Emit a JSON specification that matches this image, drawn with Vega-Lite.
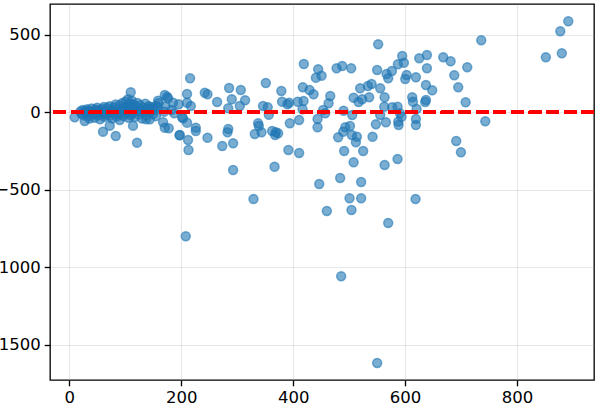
{
  "$schema": "https://vega.github.io/schema/vega-lite/v6.json",
  "width": 544,
  "height": 376,
  "autosize": "none",
  "padding": {"left": 50, "top": 4, "right": 7, "bottom": 37},
  "background": "white",
  "config": {
    "view": {"stroke": "black", "strokeWidth": 1.33},
    "axis": {
      "domain": false,
      "grid": true,
      "gridColor": "#b0b0b0",
      "gridOpacity": 0.3,
      "gridWidth": 1.1,
      "tickColor": "black",
      "tickWidth": 1.33,
      "tickSize": 5.8,
      "labelFont": "DejaVu Sans",
      "labelFontSize": 16.5,
      "labelColor": "black",
      "labelPadding": 4,
      "format": "d",
      "title": null
    }
  },
  "data": {
    "values": [
      {"x": 551.9, "r": 438.7}, {"x": 594.8, "r": 363.2}, {"x": 639.0, "r": 369.7}, {"x": 625.2, "r": 348.4},
      {"x": 597.8, "r": 320.0}, {"x": 587.1, "r": 309.7}, {"x": 419.1, "r": 311.6}, {"x": 477.6, "r": 283.9},
      {"x": 487.6, "r": 298.7}, {"x": 503.7, "r": 283.9}, {"x": 444.7, "r": 277.4}, {"x": 550.1, "r": 272.9},
      {"x": 576.4, "r": 266.5}, {"x": 639.0, "r": 283.9}, {"x": 566.9, "r": 247.1}, {"x": 569.8, "r": 219.4},
      {"x": 602.7, "r": 240.6}, {"x": 600.2, "r": 214.8}, {"x": 619.3, "r": 225.8}, {"x": 440.6, "r": 223.2},
      {"x": 450.8, "r": 236.1}, {"x": 215.9, "r": 219.4}, {"x": 351.2, "r": 189.0}, {"x": 540.1, "r": 182.6},
      {"x": 533.5, "r": 169.7}, {"x": 519.7, "r": 154.8}, {"x": 555.5, "r": 154.8}, {"x": 637.2, "r": 176.1},
      {"x": 285.6, "r": 156.8}, {"x": 306.5, "r": 143.9}, {"x": 242.2, "r": 126.5}, {"x": 247.0, "r": 116.1},
      {"x": 210.5, "r": 118.1}, {"x": 417.3, "r": 161.3}, {"x": 429.3, "r": 143.9}, {"x": 436.5, "r": 116.1},
      {"x": 378.9, "r": 137.4}, {"x": 466.3, "r": 105.2}, {"x": 508.0, "r": 94.2}, {"x": 523.3, "r": 83.9},
      {"x": 535.8, "r": 96.8}, {"x": 563.4, "r": 96.8}, {"x": 612.7, "r": 96.8}, {"x": 290.4, "r": 83.9},
      {"x": 314.2, "r": 77.4}, {"x": 264.2, "r": 66.5}, {"x": 210.5, "r": 61.9}, {"x": 380.2, "r": 68.4},
      {"x": 408.2, "r": 68.4}, {"x": 418.6, "r": 72.9}, {"x": 463.3, "r": 58.1}, {"x": 516.9, "r": 66.5},
      {"x": 614.0, "r": 68.4}, {"x": 637.2, "r": 79.4}, {"x": 389.8, "r": 51.6}, {"x": 392.7, "r": 61.9},
      {"x": 217.2, "r": 40.6}, {"x": 284.1, "r": 25.8}, {"x": 304.7, "r": 40.6}, {"x": 346.2, "r": 40.6},
      {"x": 354.6, "r": 32.3}, {"x": 562.7, "r": 36.1}, {"x": 586.5, "r": 36.1}, {"x": 577.0, "r": 32.3},
      {"x": 620.5, "r": 21.3}, {"x": 453.6, "r": 14.8}, {"x": 416.8, "r": 19.4}, {"x": 490.1, "r": 10.3},
      {"x": 356.6, "r": -15.5}, {"x": 457.2, "r": -6.5}, {"x": 555.5, "r": -17.4}, {"x": 505.5, "r": -17.4},
      {"x": 590.7, "r": -6.5}, {"x": 593.7, "r": -28.4}, {"x": 203.4, "r": -38.7}, {"x": 210.5, "r": -67.1},
      {"x": 443.6, "r": -43.2}, {"x": 410.7, "r": -49.7}, {"x": 587.7, "r": -60.6}, {"x": 619.3, "r": -43.2},
      {"x": 394.1, "r": -71.0}, {"x": 565.7, "r": -64.5}, {"x": 547.8, "r": -77.4}, {"x": 588.4, "r": -81.9},
      {"x": 619.3, "r": -81.9}, {"x": 226.1, "r": -99.4}, {"x": 226.1, "r": -120.6}, {"x": 337.4, "r": -71.0},
      {"x": 338.7, "r": -88.4}, {"x": 284.1, "r": -107.7}, {"x": 282.8, "r": -129.0}, {"x": 443.6, "r": -96.8},
      {"x": 493.1, "r": -96.8}, {"x": 501.5, "r": -88.4}, {"x": 362.5, "r": -120.6}, {"x": 369.1, "r": -129.0},
      {"x": 373.2, "r": -135.5}, {"x": 343.5, "r": -129.0}, {"x": 331.5, "r": -140.0}, {"x": 367.8, "r": -146.5},
      {"x": 197.5, "r": -146.5}, {"x": 489.4, "r": -125.2}, {"x": 480.4, "r": -161.3}, {"x": 504.9, "r": -146.5},
      {"x": 513.9, "r": -157.4}, {"x": 512.1, "r": -193.5}, {"x": 541.8, "r": -157.4}, {"x": 247.0, "r": -163.9},
      {"x": 212.3, "r": -178.7}, {"x": 213.1, "r": -243.2}, {"x": 273.4, "r": -217.4}, {"x": 292.8, "r": -200.0},
      {"x": 391.5, "r": -243.2}, {"x": 410.7, "r": -262.6}, {"x": 491.1, "r": -249.7}, {"x": 525.1, "r": -249.7},
      {"x": 508.0, "r": -322.6}, {"x": 563.4, "r": -340.0}, {"x": 586.5, "r": -301.3}, {"x": 366.8, "r": -351.0},
      {"x": 292.8, "r": -372.3}, {"x": 446.6, "r": -462.6}, {"x": 484.0, "r": -423.9}, {"x": 521.5, "r": -449.7},
      {"x": 329.2, "r": -559.4}, {"x": 500.7, "r": -554.8}, {"x": 521.5, "r": -554.8}, {"x": 618.6, "r": -559.4},
      {"x": 460.2, "r": -636.8}, {"x": 504.2, "r": -630.3}, {"x": 569.8, "r": -714.2}, {"x": 208.2, "r": -800.0},
      {"x": 485.8, "r": -1058.1}, {"x": 550.1, "r": -1617.4}, {"x": 891.5, "r": 587.1}, {"x": 877.2, "r": 522.6},
      {"x": 736.0, "r": 464.5}, {"x": 851.4, "r": 354.8}, {"x": 879.9, "r": 380.6}, {"x": 668.1, "r": 354.8},
      {"x": 681.3, "r": 329.0}, {"x": 711.0, "r": 290.3}, {"x": 687.8, "r": 238.7}, {"x": 648.4, "r": 141.9},
      {"x": 694.9, "r": 161.3}, {"x": 708.1, "r": 64.5}, {"x": 743.2, "r": -58.1}, {"x": 691.3, "r": -185.2},
      {"x": 699.7, "r": -258.1}, {"x": 635.9, "r": 66.5}, {"x": 170.7, "r": 111.6}, {"x": 174.8, "r": 100.6},
      {"x": 176.6, "r": 90.3}, {"x": 158.7, "r": 74.8}, {"x": 154.6, "r": 40.6}, {"x": 143.9, "r": 36.1},
      {"x": 185.5, "r": 61.9}, {"x": 195.7, "r": 51.6}, {"x": 171.9, "r": 36.1}, {"x": 182.7, "r": 14.8},
      {"x": 169.6, "r": 3.9}, {"x": 187.5, "r": -6.5}, {"x": 143.9, "r": -45.2}, {"x": 201.6, "r": -32.3},
      {"x": 167.7, "r": -64.5}, {"x": 170.7, "r": -99.4}, {"x": 177.8, "r": -103.2}, {"x": 197.0, "r": -148.4},
      {"x": 109.9, "r": 129.0}, {"x": 9.8, "r": -32.3}, {"x": 27.7, "r": -56.1}, {"x": 60.4, "r": -125.2},
      {"x": 72.4, "r": -86.5}, {"x": 83.1, "r": -152.9}, {"x": 114.0, "r": -86.5}, {"x": 121.2, "r": -196.1},
      {"x": 137.6, "r": -44.5}, {"x": 87.9, "r": -6.5}, {"x": 90.3, "r": -49.7},
      {"x": 20, "r": 5}, {"x": 22, "r": -10}, {"x": 24, "r": 15}, {"x": 26, "r": -20}, {"x": 28, "r": 8},
      {"x": 30, "r": -5}, {"x": 32, "r": 20}, {"x": 34, "r": -25}, {"x": 35, "r": 10}, {"x": 36, "r": -40},
      {"x": 38, "r": 0}, {"x": 40, "r": 25}, {"x": 42, "r": -15}, {"x": 44, "r": 5}, {"x": 45, "r": -35},
      {"x": 47, "r": 18}, {"x": 48, "r": -8}, {"x": 50, "r": 30}, {"x": 52, "r": -20}, {"x": 53, "r": 12},
      {"x": 55, "r": -45}, {"x": 57, "r": 0}, {"x": 58, "r": 22}, {"x": 60, "r": -12}, {"x": 62, "r": 35},
      {"x": 63, "r": -30}, {"x": 65, "r": 8}, {"x": 67, "r": -18}, {"x": 68, "r": 28}, {"x": 70, "r": -5},
      {"x": 72, "r": 40}, {"x": 73, "r": -22}, {"x": 75, "r": 15}, {"x": 77, "r": -40}, {"x": 78, "r": 5},
      {"x": 80, "r": 32}, {"x": 82, "r": -10}, {"x": 83, "r": 50}, {"x": 85, "r": -28}, {"x": 87, "r": 20},
      {"x": 88, "r": -5}, {"x": 90, "r": 45}, {"x": 92, "r": -15}, {"x": 94, "r": 10}, {"x": 95, "r": 60},
      {"x": 97, "r": -25}, {"x": 98, "r": 30}, {"x": 100, "r": 0}, {"x": 101, "r": 70}, {"x": 103, "r": -10},
      {"x": 104, "r": 40}, {"x": 105, "r": 85}, {"x": 106, "r": -35}, {"x": 107, "r": 20}, {"x": 108, "r": 55},
      {"x": 109, "r": 5}, {"x": 110, "r": -20}, {"x": 111, "r": 35}, {"x": 112, "r": 75}, {"x": 113, "r": -5},
      {"x": 114, "r": 50}, {"x": 115, "r": 15}, {"x": 117, "r": -30}, {"x": 118, "r": 40}, {"x": 120, "r": 10},
      {"x": 122, "r": 60}, {"x": 124, "r": -15}, {"x": 125, "r": 25}, {"x": 127, "r": 45}, {"x": 129, "r": 0},
      {"x": 130, "r": -40}, {"x": 132, "r": 30}, {"x": 134, "r": 10}, {"x": 136, "r": 55}, {"x": 138, "r": -20},
      {"x": 140, "r": 20}, {"x": 142, "r": 40}, {"x": 145, "r": 5}, {"x": 148, "r": 25}, {"x": 150, "r": -10},
      {"x": 152, "r": 15}, {"x": 155, "r": -25}, {"x": 158, "r": 35}, {"x": 160, "r": 60}
    ]
  },
  "layer": [
    {
      "mark": {"type": "point", "filled": true, "size": 80, "color": "#1f77b4", "fillOpacity": 0.6, "stroke": "#1f77b4", "strokeOpacity": 0.6, "strokeWidth": 1.5, "clip": true},
      "encoding": {
        "x": {"field": "x", "type": "quantitative", "scale": {"domain": [-34.3, 937.4], "nice": false, "zero": false},
              "axis": {"values": [0, 200, 400, 600, 800]}},
        "y": {"field": "r", "type": "quantitative", "scale": {"domain": [-1727, 698.7], "nice": false, "zero": false},
              "axis": {"values": [-1500, -1000, -500, 0, 500]}}
      }
    },
    {
      "mark": {"type": "rule", "color": "red", "strokeWidth": 3.3, "strokeDash": [12.3, 5.3]},
      "encoding": {"y": {"datum": 0}}
    }
  ]
}
